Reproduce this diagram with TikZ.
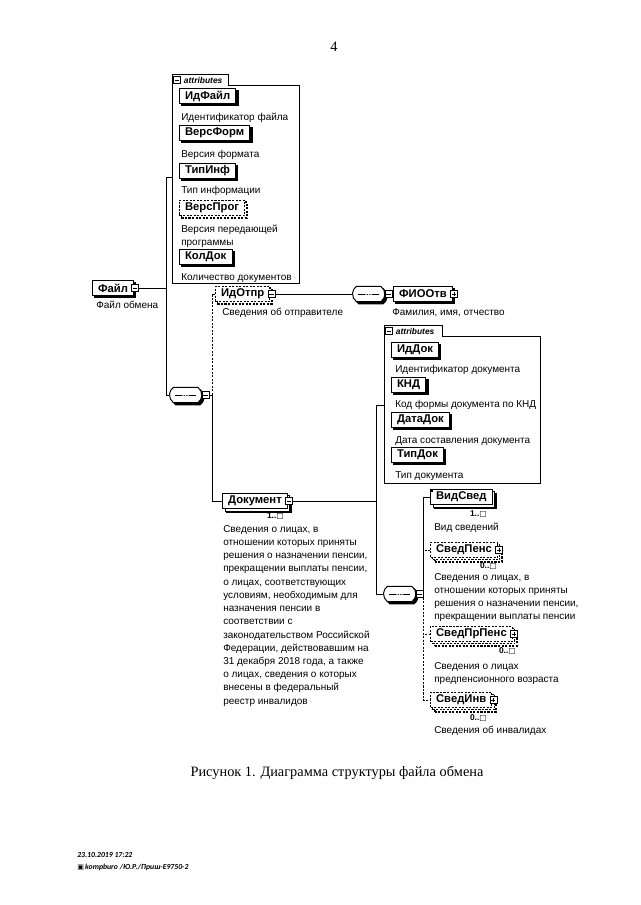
\documentclass[tikz,border=0pt]{standalone}
\usepackage{fontspec}
\setmainfont{Liberation Serif}
\setsansfont{Liberation Sans}
\newfontfamily\symfont{DejaVu Sans}
\newfontfamily\stampfont{Carlito}
\usetikzlibrary{positioning, shapes.misc, shadows}

\newcommand{\manymark}{{\symfont\fontsize{5.5}{6}\selectfont □}}

\begin{document}
\begin{tikzpicture}[
    x=0.025cm, y=-0.025cm,
    elembase/.style={draw, line width=0.7pt, fill=white, anchor=west, inner xsep=4pt, inner ysep=0pt,
        minimum height=11pt, font=\sffamily\bfseries\fontsize{8}{9}\selectfont},
    elem/.style={elembase, general shadow={draw=black, fill=black, shadow xshift=1.6pt, shadow yshift=-1.6pt}},
    manyelem/.style={elembase,
        general shadow={draw=black, fill=black, shadow xshift=3pt, shadow yshift=-3pt},
        general shadow={draw=black, fill=white, shadow xshift=1.8pt, shadow yshift=-1.8pt}},
    optelem/.style={elembase, dash pattern=on 1.5pt off 1pt,
        general shadow={draw=black, fill=white, line width=1.2pt, dash pattern=on 1.5pt off 1pt, shadow xshift=1.4pt, shadow yshift=-1.4pt}},
    optmany/.style={elembase, dash pattern=on 1.5pt off 1pt,
        general shadow={draw=black, fill=white, line width=1.4pt, dash pattern=on 1.5pt off 1pt, shadow xshift=3pt, shadow yshift=-3pt},
        general shadow={draw=black, fill=white, dash pattern=on 1.5pt off 1pt, shadow xshift=1.6pt, shadow yshift=-1.6pt}},
    seq/.style={rounded rectangle, rounded rectangle arc length=110, draw, line width=0.7pt, fill=white,
        minimum width=23pt, minimum height=11pt, inner sep=0pt, anchor=west,
        general shadow={draw=black, fill=black, shadow xshift=1.6pt, shadow yshift=-1.6pt},
        path picture={
            \draw[line width=0.5pt] ([xshift=4pt]path picture bounding box.west) -- ([xshift=-4pt]path picture bounding box.east);
            \foreach \d in {-1.8,0,1.8} \fill ([xshift=\d pt]path picture bounding box.center) circle (0.7pt);
        }},
    xminus/.style={draw, solid, fill=white, line width=0.5pt, minimum size=5pt, inner sep=0pt,
        path picture={\draw[line width=0.5pt] ([xshift=1pt]path picture bounding box.west) -- ([xshift=-1pt]path picture bounding box.east);}},
    xplus/.style={draw, solid, fill=white, line width=0.5pt, minimum size=5pt, inner sep=0pt,
        path picture={\draw[line width=0.5pt] ([xshift=1pt]path picture bounding box.west) -- ([xshift=-1pt]path picture bounding box.east)
            ([yshift=1pt]path picture bounding box.south) -- ([yshift=-1pt]path picture bounding box.north);}},
    corner/.style={fill=black, minimum size=2pt, inner sep=0pt, anchor=north west},
    desc/.style={anchor=west, inner sep=0pt, align=left, font=\sffamily\fontsize{7.1}{9.4}\selectfont},
    mult/.style={anchor=east, inner sep=0pt, font=\sffamily\bfseries\fontsize{6}{7}\selectfont},
    attline/.style={line width=0.6pt},
    atttab/.style={inner sep=0pt, anchor=west, font=\sffamily\bfseries\itshape\fontsize{6}{7}\selectfont},
    conn/.style={line width=0.6pt},
    optconn/.style={conn, dash pattern=on 1.5pt off 1pt},
    pagetext/.style={font=\fontsize{10.2}{12}\selectfont},
    stamp/.style={anchor=west, inner sep=0pt, font=\stampfont\bfseries\itshape\fontsize{5.5}{6.5}\selectfont}
]
\useasboundingbox (0,0) rectangle (640,905);

% page number
\node[pagetext] (pageno) at (334,47) {4};

% root element
\node[elem] (file) at (92,288) {Файл};
\node[xminus, right=-2pt of file] (file-x) {};
\node[desc] (file-d) at (96,305) {Файл обмена};

% attributes of the root
\draw[attline] (172,283) -- (172,74) -- (228,74) -- (228,85) -- (299,85) -- (299,283) -- cycle;
\node[xminus] (attF-x) at (177,80) {};
\node[atttab, right=2pt of attF-x] (attF-t) {attributes};
\coordinate (attF) at (172,177);

\node[elem] (idfile) at (179,96) {ИдФайл};
\node[desc] (idfile-d) at (181,118) {Идентификатор файла};
\node[elem] (versform) at (179,133) {ВерсФорм};
\node[desc] (versform-d) at (181,155) {Версия формата};
\node[elem] (tipinf) at (179,171) {ТипИнф};
\node[desc] (tipinf-d) at (181,191) {Тип информации};
\node[optelem] (versprog) at (179,208) {ВерсПрог};
\node[desc] (versprog-d) at (181,236) {Версия передающей\\программы};
\node[elem] (koldok) at (179,257) {КолДок};
\node[desc] (koldok-d) at (181,278) {Количество документов};

% first sequence
\node[seq] (seq1) at (169,395) {};
\node[xminus, right=-0.5pt of seq1] (seq1-x) {};

% sender
\node[optelem] (idotpr) at (215,294) {ИдОтпр};
\node[xminus, right=-2pt of idotpr] (idotpr-x) {};
\node[desc] (idotpr-d) at (222,313) {Сведения об отправителе};

\node[seq] (seq2) at (352,294) {};
\node[xminus, right=-0.5pt of seq2] (seq2-x) {};

\node[elem] (fio) at (393,294) {ФИООтв};
\node[xplus, right=-2pt of fio] (fio-x) {};
\node[desc] (fio-d) at (392,313) {Фамилия, имя, отчество};

% document
\node[manyelem] (doc) at (222,501) {Документ};
\node[xminus, right=-2pt of doc] (doc-x) {};
\node[mult] (doc-m) at (284,516) {1..\manymark};
\node[desc, anchor=north west] (doc-d) at (223,525) {Сведения о лицах, в\\
    отношении которых приняты\\
    решения о назначении пенсии,\\
    прекращении выплаты пенсии,\\
    о лицах, соответствующих\\
    условиям, необходимым для\\
    назначения пенсии в\\
    соответствии с\\
    законодательством Российской\\
    Федерации, действовавшим на\\
    31 декабря 2018 года, а также\\
    о лицах, сведения о которых\\
    внесены в федеральный\\
    реестр инвалидов};

% attributes of the document
\draw[attline] (384,483) -- (384,325) -- (442,325) -- (442,336) -- (540,336) -- (540,483) -- cycle;
\node[xminus] (attD-x) at (389,331) {};
\node[atttab, right=2pt of attD-x] (attD-t) {attributes};
\coordinate (attD) at (384,405);

\node[elem] (iddok) at (391,350) {ИдДок};
\node[desc] (iddok-d) at (395,370) {Идентификатор документа};
\node[elem] (knd) at (391,385) {КНД};
\node[desc] (knd-d) at (395,405) {Код формы документа по КНД};
\node[elem] (datadok) at (391,420) {ДатаДок};
\node[desc] (datadok-d) at (395,441) {Дата составления документа};
\node[elem] (tipdok) at (391,455) {ТипДок};
\node[desc] (tipdok-d) at (395,476) {Тип документа};

% second sequence
\node[seq] (seq3) at (383,594) {};
\node[xminus, right=-0.5pt of seq3] (seq3-x) {};

% document content
\node[manyelem] (vidsved) at (430,497) {ВидСвед};
\node[corner] (vidsved-c) at (vidsved.north west) {};
\node[mult] (vidsved-m) at (487,514) {1..\manymark};
\node[desc] (vidsved-d) at (434,528) {Вид сведений};

\node[optmany] (svedpens) at (430,550) {СведПенс};
\node[xplus, right=-2pt of svedpens] (svedpens-x) {};
\node[mult] (svedpens-m) at (497,566) {0..\manymark};
\node[desc, anchor=north west] (svedpens-d) at (434,573) {Сведения о лицах, в\\
    отношении которых приняты\\
    решения о назначении пенсии,\\
    прекращении выплаты пенсии};

\node[optmany] (svedprpens) at (430,634) {СведПрПенс};
\node[xplus, right=-2pt of svedprpens] (svedprpens-x) {};
\node[mult] (svedprpens-m) at (516,651) {0..\manymark};
\node[desc, anchor=north west] (svedprpens-d) at (434,662) {Сведения о лицах\\предпенсионного возраста};

\node[optmany] (svedinv) at (430,700) {СведИнв};
\node[xplus, right=-2pt of svedinv] (svedinv-x) {};
\node[mult] (svedinv-m) at (487,718) {0..\manymark};
\node[desc] (svedinv-d) at (434,731) {Сведения об инвалидах};

% connectors
\coordinate (fileJ) at (166,288);
\draw[conn] (file-x.east) -- (fileJ) |- (attF);
\draw[conn] (fileJ) |- (seq1.west);

\coordinate (seq1J) at (212,395);
\draw[conn] (seq1-x.east) -- (seq1J) |- (doc.west);
\draw[optconn] (seq1J) |- (idotpr.west);

\draw[conn] (idotpr-x.east) -- (seq2.west);
\draw[conn] (seq2-x.east) -- (fio.west);

\coordinate (docJ) at (376,501);
\draw[conn] (doc-x.east) -- (docJ) |- (attD);
\draw[conn] (docJ) |- (seq3.west);

\coordinate (seq3J) at (423,594);
\draw[conn] (seq3-x.east) -- (seq3J) |- (vidsved.west);
\draw[optconn] (seq3J) |- (svedpens.west);
\draw[optconn] (seq3J) |- (svedprpens.west);
\draw[optconn] (seq3J) |- (svedinv.west);

% caption and stamp
\node[pagetext] (caption) at (337,773) {Рисунок 1. Диаграмма структуры файла обмена};
\node[stamp] (stamp1) at (77,855) {23.10.2019 17:22};
\node[stamp] (stamp2) at (77,867) {{\symfont\fontsize{5}{6}\selectfont ▣}\,kompburo /Ю.Р./Приш-Е9750-2};

\end{tikzpicture}
\end{document}
